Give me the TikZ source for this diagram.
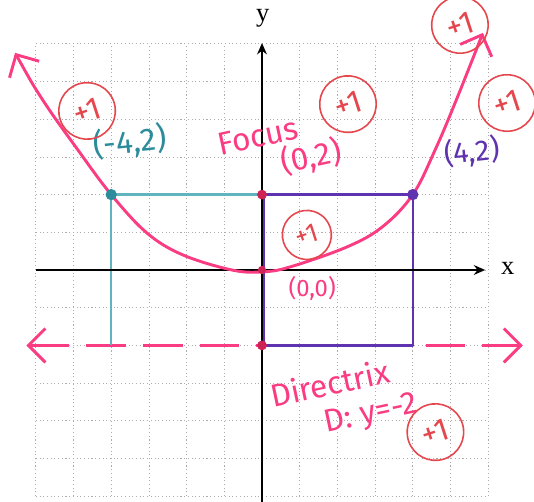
\documentclass[tikz,border=0pt]{standalone}
\usepackage{fontspec}
\setmainfont{Fira Sans}
\newfontfamily\axisfont{Liberation Serif}
\usepackage{tikz}
\usetikzlibrary{arrows.meta,calc,positioning}

\definecolor{penpink}{RGB}{250,60,130}
\definecolor{scorered}{RGB}{228,72,78}
\definecolor{tealpen}{RGB}{45,140,155}
\definecolor{tealline}{RGB}{95,180,190}
\definecolor{purplepen}{RGB}{95,50,175}
\definecolor{dotred}{RGB}{205,35,85}

\begin{document}
\begin{tikzpicture}[
  scale=1.0,
  barb/.tip={Straight Barb[length=4.5mm,width=9mm]},
  grd/.style={gray!65, line width=0.5pt, dash pattern=on 0.8pt off 2pt},
  axis/.style={draw, line width=1.3pt, -{Stealth[length=3mm,width=2.6mm]}},
  parab/.style={draw=penpink, line width=2.2pt, line cap=round, line join=round},
  dirline/.style={draw=penpink, line width=2.2pt, dash pattern=on 1.05cm off 0.45cm},
  tline/.style={draw=tealline, line width=1.8pt},
  pline/.style={draw=purplepen, line width=1.8pt, line join=round},
  dot/.style={circle, inner sep=0pt, minimum size=0.3cm},
  lab/.style={font=\fontsize{24}{24}\selectfont, inner sep=1pt},
  axlab/.style={font=\axisfont\fontsize{20}{20}\selectfont},
  score/.style={circle, draw=scorered, line width=1.2pt, text=scorered,
    minimum size=1.5cm, inner sep=0pt, rotate=18,
    font=\fontsize{24}{24}\selectfont},
]
\useasboundingbox (-6.95,-6.154) rectangle (7.215,7.162);

% points of the parabola x^2 = 8y
\coordinate (O)  at (0,0);
\coordinate (F)  at (0,2);
\coordinate (P1) at (-4,2);
\coordinate (P2) at (4,2);
\coordinate (D0) at (0,-2);
\coordinate (DL) at (-4,-2);
\coordinate (DR) at (4,-2);

% graph paper
\draw[grd] (-6,-6) grid (6,6);

% directrix y = -2
\draw[dirline, barb-barb] (-6.25,-2) -- (6.92,-2);

% distances to focus and directrix
\draw[tline] (P1) -- (F);
\draw[tline] (P1) -- (DL);
\draw[pline] (F) -- (P2) -- (DR) -- (D0);
\draw[pline] ($(F)+(0.06,0)$) -- ($(D0)+(0.06,0)$);

% axes
\draw[axis] (0,-6.15) -- (0,6.02);
\draw[axis] (-6,0) -- (5.92,0);
\node[axlab] (ylab) at (0.02,6.68) {y};
\node[axlab] (xlab) at (6.52,0.05) {x};

% the parabola
\draw[parab, barb-barb] plot[smooth, tension=0.6] coordinates {
  (-6.55,5.76) (-5.81,4.5) (-4.88,3.18) (-4,2) (-3.05,0.98) (-2.1,0.4)
  (-0.8,0) (0,-0.05) (0.74,0.08) (2.25,0.61) (3.2,1.15) (4,2)
  (4.59,3.18) (5.15,4.5) (5.86,6.29)};

% dots
\node[dot, fill=tealpen] (nP1) at (P1) {};
\node[dot, fill=purplepen] (nP2) at (P2) {};
\node[dot, fill=dotred, minimum size=0.26cm] (nF) at (F) {};
\node[dot, fill=dotred, minimum size=0.22cm] (nO) at (O) {};
\node[dot, fill=dotred, minimum size=0.26cm] (nD) at (D0) {};

% labels
\node[lab, text=tealpen, rotate=6] (labP1) at (-3.5,3.4) {(-4,2)};
\node[lab, text=penpink, rotate=12] (labF) at (-0.11,3.55) {Focus};
\node[lab, text=penpink, rotate=12] (labF2) at (1.3,3.0) {(0,2)};
\node[lab, text=purplepen, rotate=6, font=\fontsize{22}{22}\selectfont] (labP2) at (5.57,3.13) {(4,2)};
\node[lab, text=penpink, font=\fontsize{18}{18}\selectfont] (labO) at (1.33,-0.5) {(0,0)};
\node[lab, text=penpink, rotate=12] (labD) at (1.8,-3.0) {Directrix};
\node[lab, text=penpink, rotate=12] (labD2) at (2.9,-3.85) {D: y=-2};

% points awarded
\node[score] (s1) at (-4.64,4.22) {+1};
\node[score] (s2) at (2.28,4.40) {+1};
\node[score] (s3) at (5.25,6.50) {+1};
\node[score] (s4) at (6.50,4.43) {+1};
\node[score, minimum size=1.3cm, font=\fontsize{20}{20}\selectfont] (s5) at (1.19,0.93) {+1};
\node[score] (s6) at (4.6,-4.3) {+1};

\end{tikzpicture}
\end{document}
